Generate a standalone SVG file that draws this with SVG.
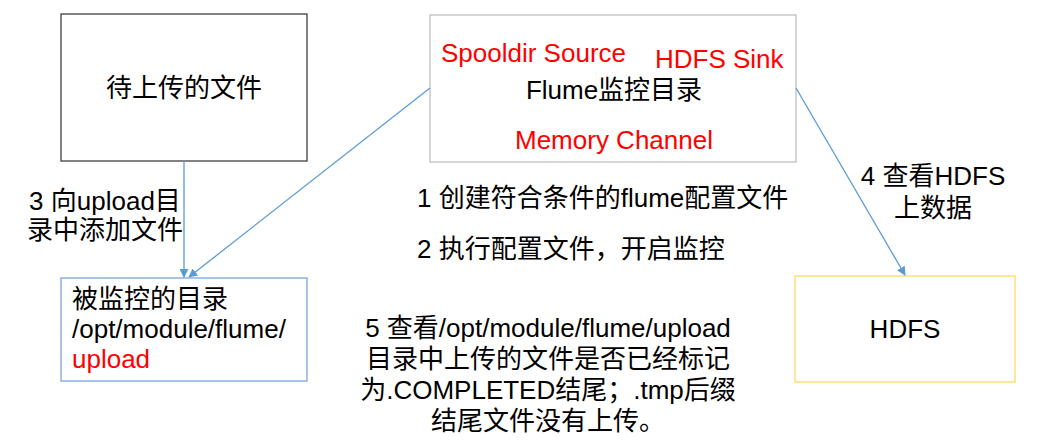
<svg xmlns="http://www.w3.org/2000/svg" width="1049" height="446" viewBox="0 0 1049 446">
<style>
text{font-family:"Liberation Sans","Noto Sans CJK SC",sans-serif;font-size:26px;fill:#000}
.red{fill:#ff0000}
.m{text-anchor:middle}
.box{fill:#fff;stroke-width:1.3}
.conn{stroke:#5b9bd5;stroke-width:1.3;fill:none}
</style>
<defs>
<marker id="ah" viewBox="0 0 10 10" refX="9" refY="5" markerWidth="9" markerHeight="9" markerUnits="userSpaceOnUse" orient="auto">
<path d="M0,0 L10,5 L0,10 z" fill="#5b9bd5"/>
</marker>
</defs>
<rect width="1049" height="446" fill="#fff"/>
<g id="node-source-files">
<rect class="box" x="61" y="14" width="246" height="147" stroke="#404040"/>
<text class="m" x="184" y="97">待上传的文件</text>
</g>
<g id="node-flume">
<rect class="box" x="430" y="15" width="366" height="147" stroke="#bfbfbf"/>
<text class="red" x="441" y="62">Spooldir Source</text>
<text class="red" x="655" y="68">HDFS Sink</text>
<text class="m" x="614" y="99">Flume监控目录</text>
<text class="red m" x="614" y="149">Memory Channel</text>
</g>
<g id="node-upload-dir">
<rect class="box" x="61" y="278" width="246" height="103" stroke="#7ba7d7"/>
<text x="72" y="308">被监控的目录</text>
<text x="72" y="338">/opt/module/flume/</text>
<text class="red" x="72" y="368">upload</text>
</g>
<g id="node-hdfs">
<rect class="box" x="795" y="276" width="220" height="106" stroke="#ffd966"/>
<text class="m" x="905" y="338">HDFS</text>
</g>
<g id="connectors">
<line class="conn" x1="184" y1="161" x2="184" y2="277" marker-end="url(#ah)"/>
<line class="conn" x1="430" y1="88" x2="189" y2="277" marker-end="url(#ah)"/>
<line class="conn" x1="796" y1="88" x2="905" y2="275" marker-end="url(#ah)"/>
</g>
<g id="labels">
<text class="m" x="105" y="210">3 向upload目</text>
<text class="m" x="105" y="239">录中添加文件</text>
<text x="417" y="207">1 创建符合条件的flume配置文件</text>
<text x="417" y="258">2 执行配置文件，开启监控</text>
<text class="m" x="548" y="337">5 查看/opt/module/flume/upload</text>
<text class="m" x="548" y="368">目录中上传的文件是否已经标记</text>
<text class="m" x="548" y="399">为.COMPLETED结尾；.tmp后缀</text>
<text class="m" x="548" y="430">结尾文件没有上传。</text>
<text class="m" x="933" y="185">4 查看HDFS</text>
<text class="m" x="933" y="217">上数据</text>
</g>
</svg>
